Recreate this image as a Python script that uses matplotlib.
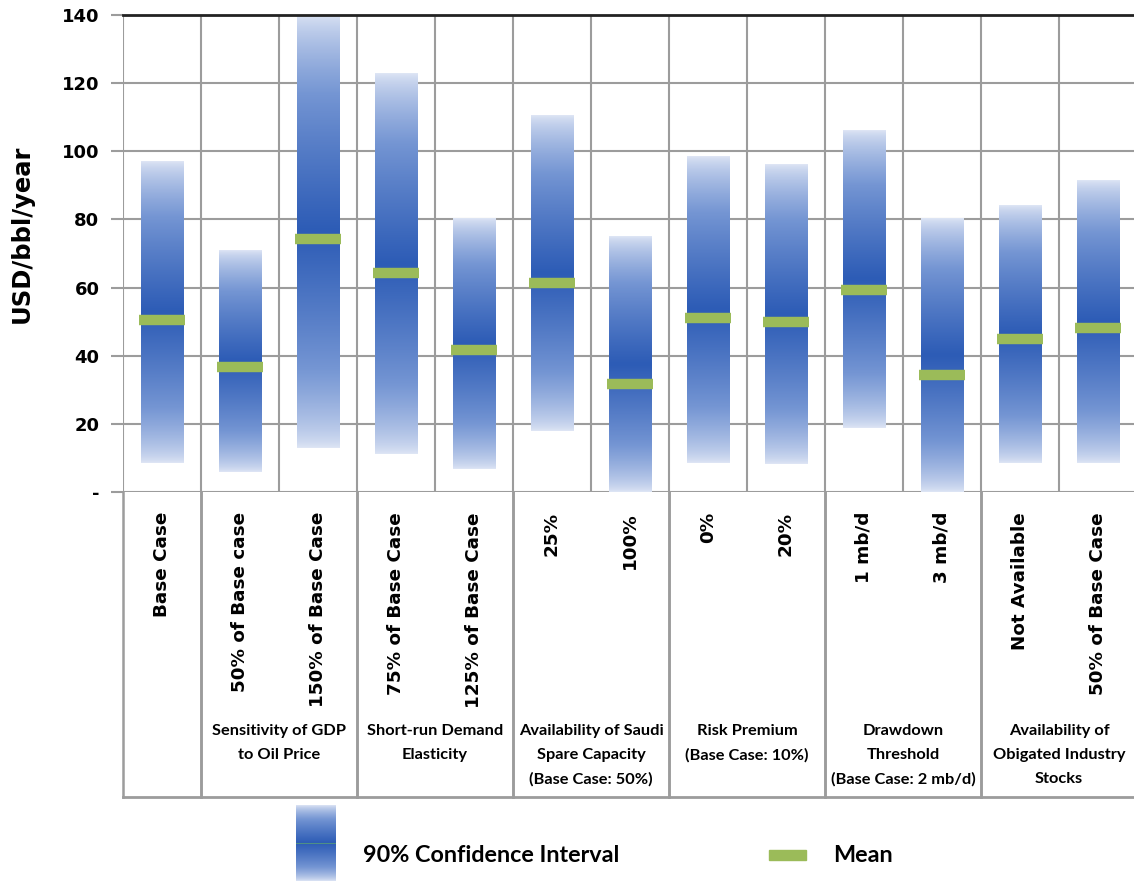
import matplotlib.pyplot as plt
import numpy as np
from matplotlib.colors import LinearSegmentedColormap
from matplotlib.transforms import blended_transform_factory

# scenario labels (one per column) and their 90% interval / mean values
scenarios = [
    "Base Case",
    "50% of Base case", "150% of Base Case",
    "75% of Base Case", "125% of Base Case",
    "25%", "100%",
    "0%", "20%",
    "1 mb/d", "3 mb/d",
    "Not Available", "50% of Base Case",
]
ci_low = [8.5, 5.9, 12.9, 11.2, 6.8, 17.9, 0.0, 8.5, 8.2, 18.8, 0.0, 8.5, 8.5]
ci_high = [97, 71, 140, 123, 80.4, 110.4, 75.1, 98.6, 96, 106, 80.4, 84.2, 91.3]
means = [50.5, 36.7, 74.3, 64.3, 41.7, 61.3, 31.7, 51.1, 49.9, 59.3, 34.3, 44.9, 48.1]

# groups of columns: (first column, last column, caption)
groups = [
    (0, 0, ""),
    (1, 2, "Sensitivity of GDP\nto Oil Price"),
    (3, 4, "Short-run Demand\nElasticity"),
    (5, 6, "Availability of Saudi\nSpare Capacity\n(Base Case: 50%)"),
    (7, 8, "Risk Premium\n(Base Case: 10%)"),
    (9, 10, "Drawdown\nThreshold\n(Base Case: 2 mb/d)"),
    (11, 12, "Availability of\nObigated Industry\nStocks"),
]

yticks = [0, 20, 40, 60, 80, 100, 120, 140]
ytick_labels = ["-", "20", "40", "60", "80", "100", "120", "140"]

LIGHT = "#dfe6f5"
DARK = "#2d5cb6"
GREEN = "#9bbb59"
GRID = "#9c9c9c"

W, H = 1134, 881
fig = plt.figure(figsize=(W / 100, H / 100), dpi=100)
ax = fig.add_axes([123 / W, (H - 492) / H, 1014 / W, 477 / H])

# vertical gradient: light at both ends, dark blue in the middle
cmap = LinearSegmentedColormap.from_list(
    "ci", [(0.0, LIGHT), (0.5, "#7495d3"), (1.0, DARK)]
)
n = 512
s = np.linspace(0, 1, n)
profile = (1 - np.abs(s - 0.5) * 2) ** 0.7
grad = profile.reshape(-1, 1)

n_cols = len(scenarios)
bar_w = 0.55
for i in range(n_cols):
    ax.imshow(grad, cmap=cmap, vmin=0, vmax=1, aspect="auto",
              extent=(i - bar_w / 2, i + bar_w / 2, ci_low[i], ci_high[i]),
              origin="lower", zorder=2, interpolation="bilinear")
    ax.plot([i - 0.3, i + 0.3], [means[i], means[i]], color=GREEN,
            linewidth=7.5, solid_capstyle="butt", zorder=3)

ax.set_xlim(-0.5, n_cols - 0.5)
ax.set_ylim(0, 140)
ax.set_yticks(yticks)
ax.set_yticklabels(ytick_labels, fontsize=13, fontweight="bold")
ax.set_xticks([])
ax.grid(axis="y", color=GRID, linewidth=1.5, zorder=0)
for i in range(n_cols + 1):
    ax.axvline(i - 0.5, color=GRID, linewidth=1.5, zorder=0)
for side in ("left", "right", "bottom"):
    ax.spines[side].set_visible(False)
ax.spines["top"].set_color("#222222")
ax.spines["top"].set_linewidth(2)
ax.tick_params(axis="y", length=9, width=1.5, color=GRID, pad=8)
ax.axhline(0, color=GRID, linewidth=2, zorder=1)

fig.text(22 / W, 1 - 234 / H, "USD/bbl/year", rotation=90, ha="center",
         va="center", fontsize=17.5, fontweight="bold")

# category table under the plot
tr = blended_transform_factory(ax.transData, ax.transAxes)
table_bottom = -(797 - 492) / 477
for first, last, caption in groups:
    for x in (first - 0.5, last + 0.5):
        ax.plot([x, x], [0, table_bottom], transform=tr, color=GRID,
                linewidth=1.8, clip_on=False)
    if caption:
        ax.text((first + last) / 2, -(724 - 492) / 477, caption, transform=tr,
                ha="center", va="top", fontsize=11.8, fontweight="bold",
                family="Lato", linespacing=1.9)
ax.plot([-0.5, n_cols], [table_bottom, table_bottom], transform=tr,
        color=GRID, linewidth=2, clip_on=False)

for i, label in enumerate(scenarios):
    ax.text(i, -(512 - 492) / 477, label, transform=tr, rotation=90,
            ha="center", va="top", fontsize=13.2, fontweight="bold")

# legend
lax = fig.add_axes([296 / W, 0, 40 / W, 76 / H])
lax.imshow(grad, cmap=cmap, vmin=0, vmax=1, aspect="auto",
           extent=(0, 1, 0, 1), origin="lower", interpolation="bilinear")
lax.axhline(0.5, color="#4f8f86", linewidth=0.8)
lax.set_axis_off()
fig.text(363 / W, 1 - 855 / H, "90% Confidence Interval", ha="left",
         va="center", fontsize=16.8, fontweight="bold", family="Lato")
fig.patches.append(plt.Rectangle((769 / W, 1 - 860 / H), 37 / W, 10 / H,
                                 transform=fig.transFigure, color=GREEN))
fig.text(833 / W, 1 - 855 / H, "Mean", ha="left", va="center",
         fontsize=16.8, fontweight="bold", family="Lato")

fig.savefig("out.png", dpi=100)
